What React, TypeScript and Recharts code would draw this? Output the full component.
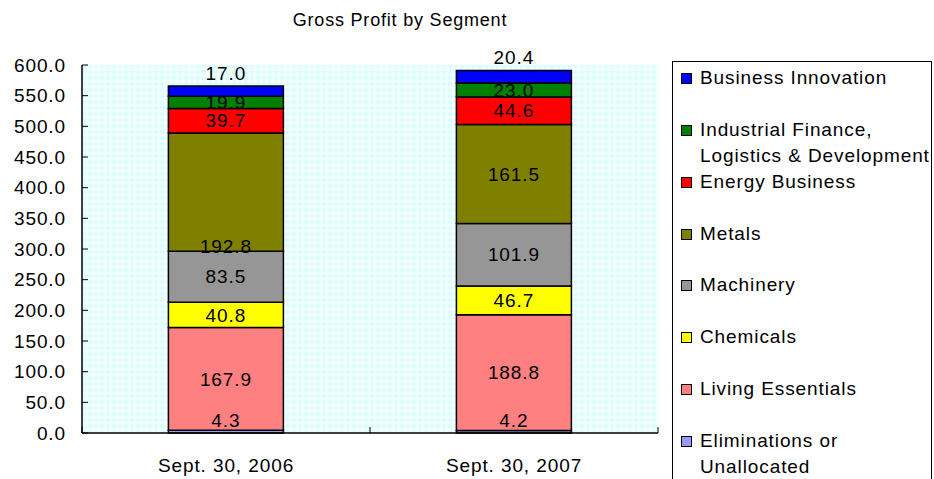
import React from 'react';
import { Bar, BarChart, CartesianGrid, LabelList, XAxis, YAxis } from 'recharts';

const categories = ['Sept. 30, 2006', 'Sept. 30, 2007'];

// stacked bottom -> top
const eliminations = [4.3, 4.2];
const livingEssentials = [167.9, 188.8];
const chemicals = [40.8, 46.7];
const machinery = [83.5, 101.9];
const metals = [192.8, 161.5];
const energy = [39.7, 44.6];
const industrialFinance = [19.9, 23.0];
const businessInnovation = [17.0, 20.4];

const yTicks = [0, 50, 100, 150, 200, 250, 300, 350, 400, 450, 500, 550, 600];

const FONT = '"Liberation Sans", Arial, Helvetica, sans-serif';

type Place = 'center' | 'above' | 'aboveTop' | 'insideBottom';

const series: {
  key: string;
  name: string[];
  color: string;
  values: number[];
  place: Place[];
}[] = [
  { key: 'elim', name: ['Eliminations or', 'Unallocated'], color: '#9999FF', values: eliminations, place: ['above', 'above'] },
  { key: 'living', name: ['Living Essentials'], color: '#FF8080', values: livingEssentials, place: ['center', 'center'] },
  { key: 'chem', name: ['Chemicals'], color: '#FFFF00', values: chemicals, place: ['center', 'center'] },
  { key: 'mach', name: ['Machinery'], color: '#969696', values: machinery, place: ['center', 'center'] },
  { key: 'metals', name: ['Metals'], color: '#808000', values: metals, place: ['insideBottom', 'center'] },
  { key: 'energy', name: ['Energy Business'], color: '#FF0000', values: energy, place: ['center', 'center'] },
  { key: 'ifld', name: ['Industrial Finance,', 'Logistics & Development'], color: '#008000', values: industrialFinance, place: ['center', 'center'] },
  { key: 'bi', name: ['Business Innovation'], color: '#0000FF', values: businessInnovation, place: ['aboveTop', 'aboveTop'] },
];

const data = categories.map((name, i) => {
  const row: Record<string, string | number> = { name };
  series.forEach((s) => {
    row[s.key] = s.values[i];
  });
  return row;
});

const textStyle = { fontFamily: FONT, fontSize: 19, letterSpacing: 0.9, fill: '#000' };

function makeLabel(place: Place[]) {
  return (props: any) => {
    const { x, y, width, height, value, index } = props;
    const p = place[index] ?? 'center';
    let cy = Number(y) + Number(height) / 2;
    if (p === 'above') cy = Number(y) - 10;
    if (p === 'aboveTop') cy = Number(y) - 13;
    if (p === 'insideBottom') cy = Number(y) + Number(height) - 5;
    return (
      <text
        x={Number(x) + Number(width) / 2}
        y={cy}
        dy="0.35em"
        textAnchor="middle"
        style={textStyle}
      >
        {Number(value).toFixed(1)}
      </text>
    );
  };
}

function YTick(props: any) {
  const { x, y, payload } = props;
  return (
    <g>
      <line x1={x + 16} x2={x + 22} y1={y} y2={y} stroke="#000" />
      <text x={x} y={y} dy="0.35em" textAnchor="end" style={textStyle}>
        {Number(payload.value).toFixed(1)}
      </text>
    </g>
  );
}

// category label plus the inside tick marks Excel puts on the category boundaries
function XTick(props: any) {
  const { x, y, payload, index, visibleTicksCount } = props;
  const half = Number(payload.offset) || 0;
  const axisY = y - 26;
  const isLast = index === (visibleTicksCount ?? categories.length) - 1;
  return (
    <g>
      <line x1={x - half} x2={x - half} y1={axisY} y2={axisY - 6} stroke="#000" />
      {isLast && <line x1={x + half} x2={x + half} y1={axisY} y2={axisY - 6} stroke="#000" />}
      <text x={x} y={y} dy="0.71em" textAnchor="middle" style={textStyle}>
        {payload.value}
      </text>
    </g>
  );
}

function Legend() {
  const items = [...series].reverse();
  return (
    <div
      style={{
        position: 'absolute',
        left: 672,
        top: 61,
        width: 260,
        height: 440,
        border: '1px solid #000',
        background: '#fff',
        boxSizing: 'border-box',
        paddingTop: 3,
        fontFamily: FONT,
        fontSize: 19,
        letterSpacing: 0.9,
        color: '#000',
      }}
    >
      {items.map((s) => (
        <div key={s.key} style={{ position: 'relative', height: 51.86, lineHeight: '26px', whiteSpace: 'nowrap' }}>
          <span
            style={{
              position: 'absolute',
              left: 8,
              top: 8,
              width: 9,
              height: 9,
              background: s.color,
              border: '1px solid #000',
            }}
          />
          <div style={{ position: 'absolute', left: 27, top: 0 }}>
            {s.name.map((line) => (
              <div key={line}>{line}</div>
            ))}
          </div>
        </div>
      ))}
    </div>
  );
}

export default function App() {
  return (
    <div
      style={{
        position: 'absolute',
        left: 0,
        top: 0,
        width: 934,
        height: 479,
        overflow: 'hidden',
        background: '#fff',
      }}
    >
      <div
        style={{
          position: 'absolute',
          left: 0,
          top: 10,
          width: 800,
          textAlign: 'center',
          fontFamily: FONT,
          fontSize: 18,
          letterSpacing: 0.8,
          lineHeight: '20px',
          color: '#000',
        }}
      >
        Gross Profit by Segment
      </div>
      <BarChart
        width={934}
        height={479}
        data={data}
        margin={{ top: 65, right: 276, bottom: 0, left: 0 }}
        barCategoryGap="30%"
      >
        <defs>
          <pattern id="plotBg" width="6" height="6" patternUnits="userSpaceOnUse">
            <rect width="6" height="6" fill="#dcfdfd" />
            <path d="M0 3 L3 0 L6 3 L3 6 Z" fill="#f6ffff" />
          </pattern>
        </defs>
        <CartesianGrid fill="url(#plotBg)" fillOpacity={1} horizontal={false} vertical={false} />
        <XAxis
          dataKey="name"
          height={46}
          tickSize={0}
          tickMargin={26}
          axisLine={{ stroke: '#000', strokeWidth: 1.5 }}
          tick={<XTick />}
        />
        <XAxis
          xAxisId="top"
          dataKey="name"
          orientation="top"
          height={0}
          tick={false}
          tickLine={false}
          axisLine={{ stroke: '#808080', strokeWidth: 1.5 }}
        />
        <YAxis
          domain={[0, 600]}
          ticks={yTicks}
          width={82}
          tickSize={0}
          tickMargin={16}
          axisLine={{ stroke: '#000', strokeWidth: 1.5 }}
          tick={<YTick />}
          interval={0}
        />
        <YAxis
          yAxisId="right"
          orientation="right"
          domain={[0, 600]}
          width={0}
          tick={false}
          tickLine={false}
          axisLine={{ stroke: '#808080', strokeWidth: 1.5 }}
        />
        {series.map((s) => (
          <Bar
            key={s.key}
            dataKey={s.key}
            stackId="gp"
            fill={s.color}
            stroke="#000"
            strokeWidth={1.5}
            isAnimationActive={false}
          >
            <LabelList dataKey={s.key} content={makeLabel(s.place)} />
          </Bar>
        ))}
      </BarChart>
      <Legend />
    </div>
  );
}
